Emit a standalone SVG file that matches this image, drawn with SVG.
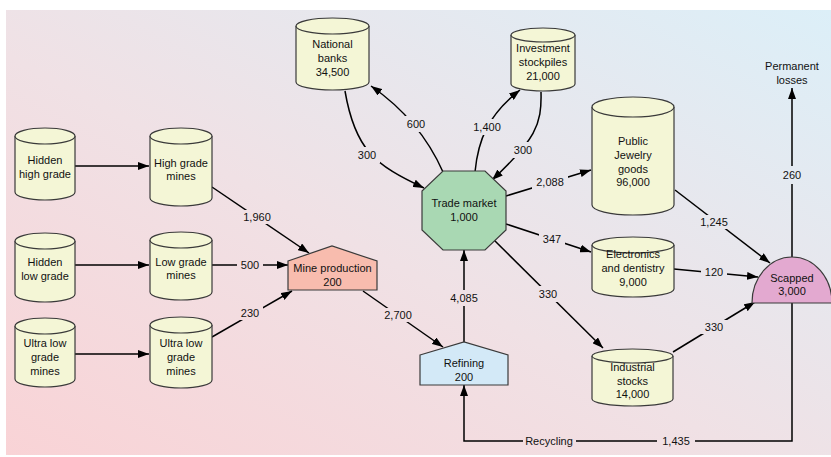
<svg xmlns="http://www.w3.org/2000/svg" width="831" height="457" viewBox="0 0 831 457">
<defs>
<linearGradient id="bg" x1="0" y1="1" x2="1" y2="0">
<stop offset="0" stop-color="#f9d3d6"/>
<stop offset="0.45" stop-color="#f0e1e5"/>
<stop offset="1" stop-color="#dceff8"/>
</linearGradient>
<marker id="ah" markerUnits="userSpaceOnUse" markerWidth="11" markerHeight="8" refX="11" refY="4" orient="auto">
<path d="M0,0 L11,4 L0,8 z" fill="#000"/>
</marker>
<mask id="gaps" maskUnits="userSpaceOnUse" x="0" y="0" width="831" height="457">
<rect x="0" y="0" width="831" height="457" fill="#fff"/>
<g fill="#000">
<rect x="239" y="210" width="36" height="14"/>
<rect x="237" y="258" width="26" height="14"/>
<rect x="237" y="306" width="26" height="14"/>
<rect x="380" y="308" width="36" height="14"/>
<rect x="446" y="290" width="36" height="16"/>
<rect x="403" y="116" width="26" height="16"/>
<rect x="354" y="147" width="26" height="16"/>
<rect x="469" y="119" width="36" height="16"/>
<rect x="510" y="142" width="26" height="16"/>
<rect x="532" y="175" width="36" height="14"/>
<rect x="539" y="232" width="26" height="14"/>
<rect x="535" y="286" width="26" height="16"/>
<rect x="696" y="215" width="36" height="14"/>
<rect x="701" y="265" width="26" height="14"/>
<rect x="701" y="320" width="26" height="14"/>
<rect x="784" y="166" width="16" height="18"/>
<rect x="657" y="434" width="38" height="14"/>
<rect x="523" y="434" width="53" height="14"/>
</g>
</mask>
</defs>
<style>
.cyl path,.cyl ellipse{fill:#f4f6d6;stroke:#3a3a3a;stroke-width:1.2}
.node{stroke:#3a3a3a;stroke-width:1.2}
text{font-family:"Liberation Sans",Arial,sans-serif;font-size:11px;fill:#111;text-anchor:middle}
#connectors path{fill:none;stroke:#000;stroke-width:1.5}
.arr{marker-end:url(#ah)}
</style>
<rect x="6" y="10" width="825" height="445" fill="url(#bg)"/>

<g id="connectors" mask="url(#gaps)">
<path class="arr" d="M75,166 L149,166"/>
<path class="arr" d="M75,265 L149,265"/>
<path class="arr" d="M75,354 L149,354"/>
<path class="arr" d="M212,187 L309,253"/>
<path class="arr" d="M212,265 L288,265"/>
<path class="arr" d="M212,337 L292,291"/>
<path class="arr" d="M363,291 L443,347"/>
<path class="arr" d="M464,342 L464,250"/>
<path class="arr" d="M443,172 Q420,120 371,86"/>
<path class="arr" d="M345,91 C355,150 375,165 424,188"/>
<path class="arr" d="M475,172 C478,140 488,115 520,90"/>
<path class="arr" d="M541,92 C542,125 535,140 492,180"/>
<path class="arr" d="M506,196 L591,170"/>
<path class="arr" d="M506,224 L591,252"/>
<path class="arr" d="M493,239 L603,348"/>
<path class="arr" d="M675,190 L770,263"/>
<path class="arr" d="M674,269 L758,277"/>
<path class="arr" d="M673,352 L755,302"/>
<path class="arr" d="M792,257 L792,88"/>
<path class="arr" d="M792,303 L792,441 L464,441 L464,385"/>
</g>

<g id="labels">
<text x="257" y="221">1,960</text>
<text x="250" y="269">500</text>
<text x="250" y="317">230</text>
<text x="398" y="319">2,700</text>
<text x="464" y="302">4,085</text>
<text x="416" y="128">600</text>
<text x="367" y="159">300</text>
<text x="487" y="131">1,400</text>
<text x="523" y="154">300</text>
<text x="550" y="186">2,088</text>
<text x="552" y="243">347</text>
<text x="548" y="298">330</text>
<text x="714" y="226">1,245</text>
<text x="714" y="276">120</text>
<text x="714" y="331">330</text>
<text x="792" y="179">260</text>
<text x="676" y="445">1,435</text>
<text x="549" y="445">Recycling</text>
<text x="792" y="70">Permanent</text>
<text x="792" y="84">losses</text>
</g>

<g id="hidden-high" class="cyl">
<path d="M15,136 V192 A30,8 0 0 0 75,192 V136"/><ellipse cx="45" cy="136" rx="30" ry="8"/>
<text x="45" y="164">Hidden</text><text x="45" y="178">high grade</text>
</g>
<g id="hidden-low" class="cyl">
<path d="M15,241 V294 A30,8 0 0 0 75,294 V241"/><ellipse cx="45" cy="241" rx="30" ry="8"/>
<text x="45" y="266">Hidden</text><text x="45" y="280">low grade</text>
</g>
<g id="ultra-hidden" class="cyl">
<path d="M15,326 V379 A30,8 0 0 0 75,379 V326"/><ellipse cx="45" cy="326" rx="30" ry="8"/>
<text x="45" y="347">Ultra low</text><text x="45" y="361">grade</text><text x="45" y="375">mines</text>
</g>
<g id="high-mines" class="cyl">
<path d="M150,136 V198 A31,8 0 0 0 212,198 V136"/><ellipse cx="181" cy="136" rx="31" ry="8"/>
<text x="181" y="167">High grade</text><text x="181" y="180">mines</text>
</g>
<g id="low-mines" class="cyl">
<path d="M150,240 V292 A31,8 0 0 0 212,292 V240"/><ellipse cx="181" cy="240" rx="31" ry="8"/>
<text x="181" y="266">Low grade</text><text x="181" y="279">mines</text>
</g>
<g id="ultra-mines" class="cyl">
<path d="M150,325 V380 A31,8 0 0 0 212,380 V325"/><ellipse cx="181" cy="325" rx="31" ry="8"/>
<text x="181" y="347">Ultra low</text><text x="181" y="361">grade</text><text x="181" y="375">mines</text>
</g>
<g id="national-banks" class="cyl">
<path d="M296,26 V82 A36.5,8 0 0 0 369,82 V26"/><ellipse cx="332.5" cy="26" rx="36.5" ry="8"/>
<text x="332.5" y="48">National</text><text x="332.5" y="62">banks</text><text x="332.5" y="76">34,500</text>
</g>
<g id="investment" class="cyl">
<path d="M511,35 V84 A32,7 0 0 0 575,84 V35"/><ellipse cx="543" cy="35" rx="32" ry="7"/>
<text x="543" y="52">Investment</text><text x="543" y="66">stockpiles</text><text x="543" y="80">21,000</text>
</g>
<g id="jewelry" class="cyl">
<path d="M592,107 V205 A41,10 0 0 0 674,205 V107"/><ellipse cx="633" cy="107" rx="41" ry="10"/>
<text x="633" y="145">Public</text><text x="633" y="159">Jewelry</text><text x="633" y="173">goods</text><text x="633" y="186">96,000</text>
</g>
<g id="electronics" class="cyl">
<path d="M592,245 V289 A41,8 0 0 0 674,289 V245"/><ellipse cx="633" cy="245" rx="41" ry="8"/>
<text x="633" y="258">Electronics</text><text x="633" y="272">and dentistry</text><text x="633" y="286">9,000</text>
</g>
<g id="industrial" class="cyl">
<path d="M592,356 V399 A40.5,7 0 0 0 673,399 V356"/><ellipse cx="632.5" cy="356" rx="40.5" ry="7"/>
<text x="632.5" y="371">Industrial</text><text x="632.5" y="385">stocks</text><text x="632.5" y="398">14,000</text>
</g>

<g id="mine-production">
<polygon class="node" points="288,261 332,246 377,261 377,290 288,290" fill="#f8bcae"/>
<text x="332.5" y="272">Mine production</text><text x="332.5" y="286">200</text>
</g>
<g id="refining">
<polygon class="node" points="420,355 464,342 508,355 508,385 420,385" fill="#d3e9f7"/>
<text x="464" y="367">Refining</text><text x="464" y="381">200</text>
</g>
<g id="trade-market">
<polygon class="node" points="443,171 485,171 506,191 506,230 485,250 443,250 422,230 422,191" fill="#a9d8b3"/>
<text x="464" y="207">Trade market</text><text x="464" y="221">1,000</text>
</g>
<g id="scapped">
<path class="node" d="M752,303 A40,46 0 0 1 832,303 Z" fill="#e3a9d0"/>
<text x="792" y="282">Scapped</text><text x="792" y="295">3,000</text>
</g>
</svg>
